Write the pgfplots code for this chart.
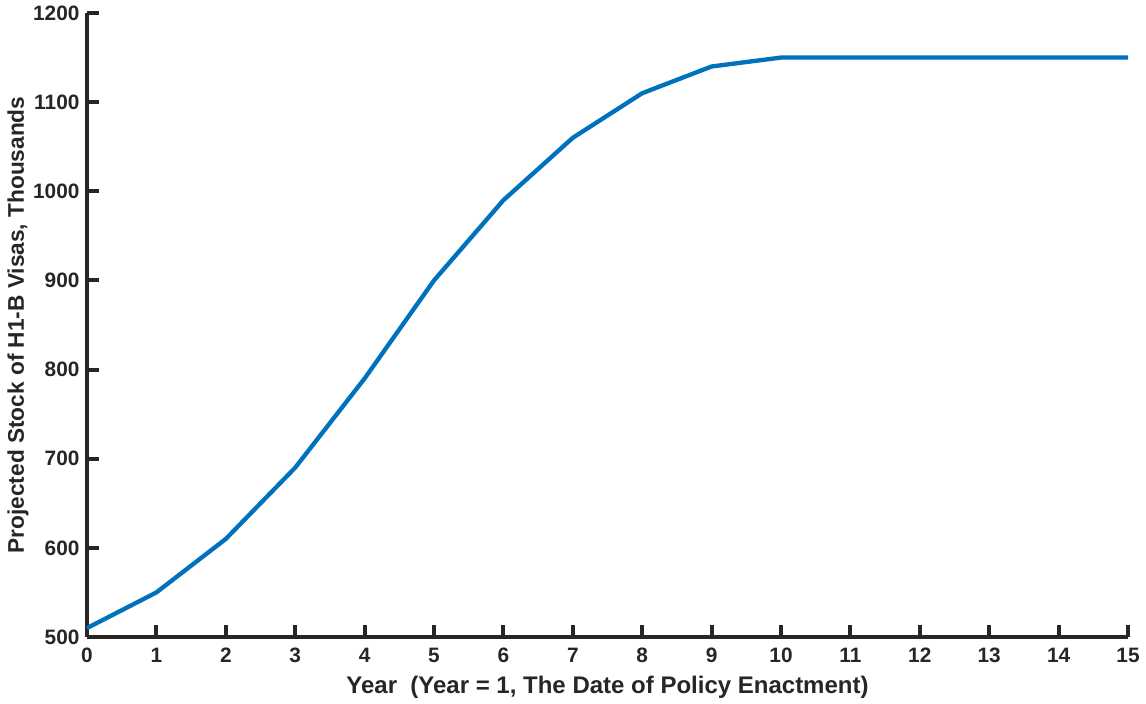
\documentclass[border=0pt]{standalone}
\usepackage{pgfplots}
\pgfplotsset{compat=1.18}
\usepackage{fontspec}
\setmainfont{Liberation Sans}
\definecolor{axc}{RGB}{38,38,38}
\definecolor{lineblue}{RGB}{0,114,189}
\begin{document}
\begin{tikzpicture}
\useasboundingbox (-52.2pt,-40.2pt) rectangle (635.4pt,382.2pt);
\begin{axis}[
  at={(0pt,0pt)}, anchor=south west,
  scale only axis,
  width=624.6pt, height=374.4pt,
  xmin=0, xmax=15, ymin=500, ymax=1200,
  axis lines*=left,
  axis line style={axc, line width=2.4pt},
  every tick/.style={axc, line width=2.4pt},
  tick align=inside,
  major tick length=7pt,
  xtick={0,...,15},
  ytick={500,600,...,1200},
  tick label style={font=\fontsize{12.5}{14}\selectfont\bfseries, text=axc},
  /pgf/number format/assume math mode=true,
  /pgf/number format/1000 sep={},
  xticklabel style={yshift=-3pt},
  yticklabel style={xshift=-1pt},
  xlabel={Year\ \ (Year = 1, The Date of Policy Enactment)},
  ylabel={Projected Stock of H1-B Visas, Thousands},
  xlabel style={font=\fontsize{14.4}{16}\selectfont\bfseries, text=axc, at={(axis description cs:0.5,0)}, anchor=center, yshift=-30pt},
  ylabel style={font=\fontsize{13.6}{16}\selectfont\bfseries, text=axc, at={(axis description cs:0,0.5)}, anchor=center, yshift=41.4pt},
  clip=false,
]
\addplot[lineblue, line width=2.6pt] coordinates {
(0,510) (1,550) (2,610) (3,690) (4,790) (5,900) (6,990) (7,1060) (8,1110) (9,1140) (10,1150) (11,1150) (12,1150) (13,1150) (14,1150) (15,1150)
};
\end{axis}
\end{tikzpicture}
\end{document}
